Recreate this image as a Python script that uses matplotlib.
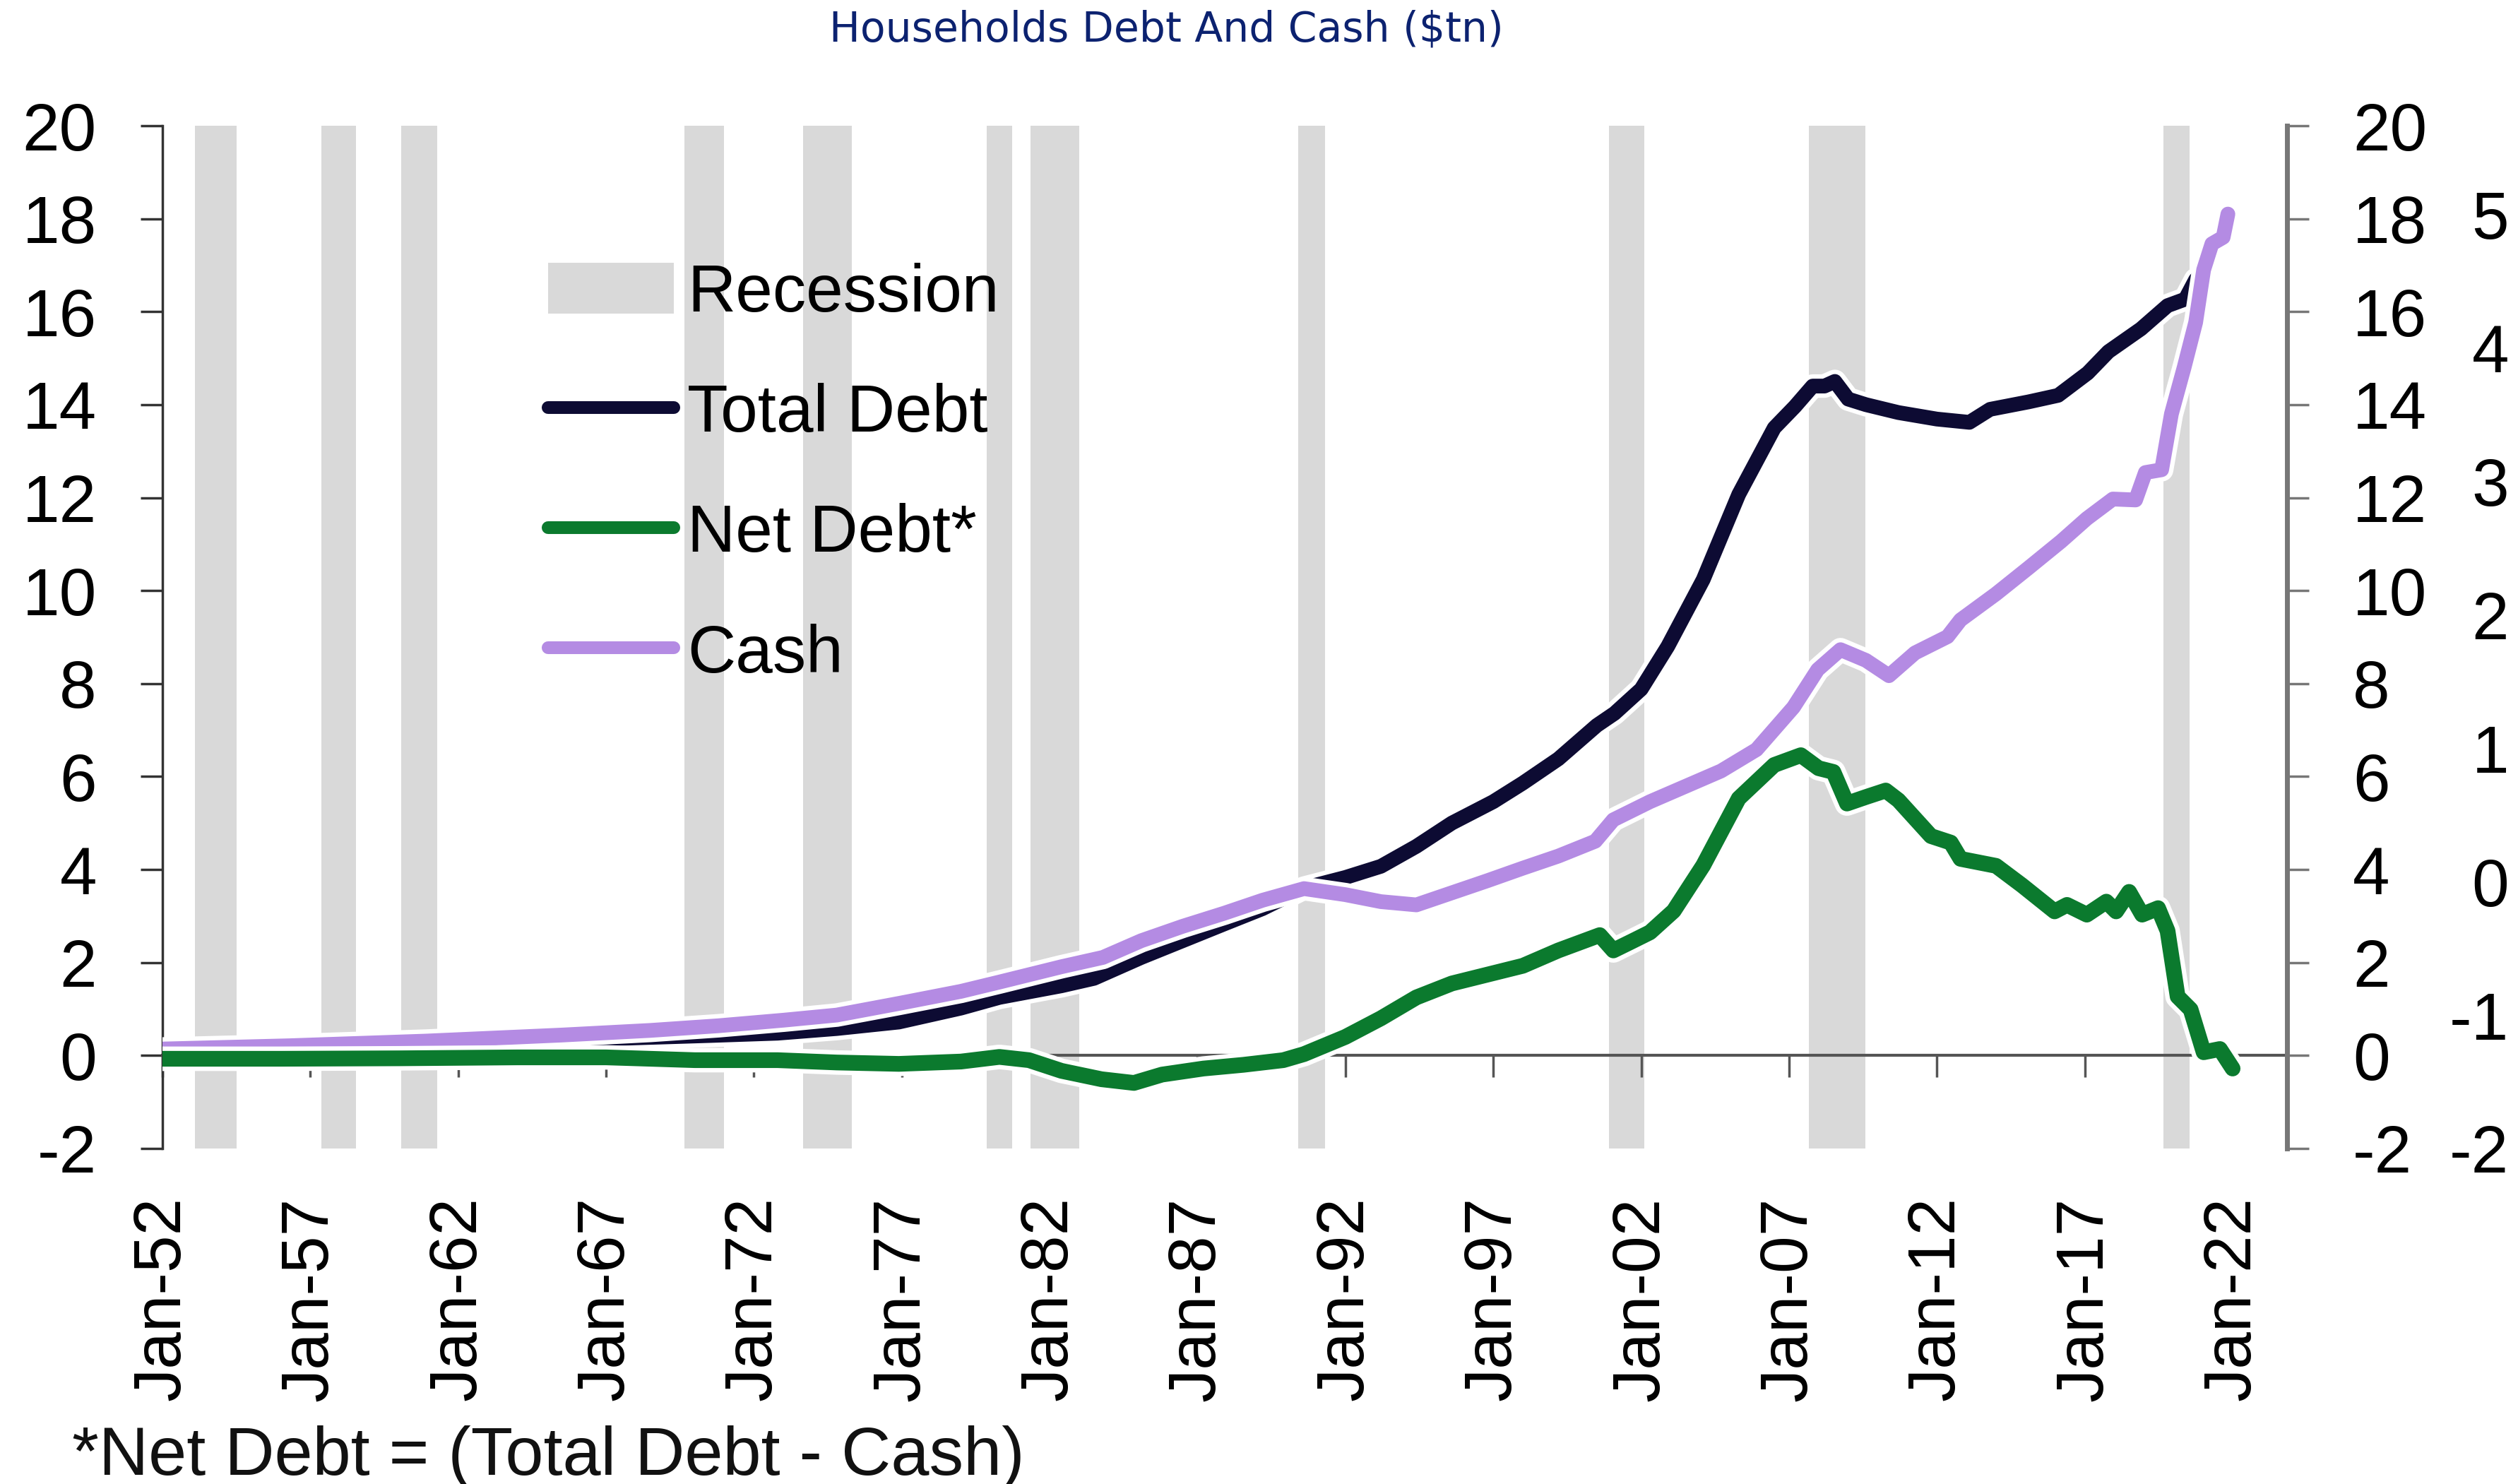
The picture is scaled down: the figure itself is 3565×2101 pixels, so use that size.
import matplotlib
matplotlib.use("Agg")
import matplotlib.pyplot as plt
import matplotlib.patheffects as pe
from matplotlib.patches import Patch
from matplotlib.lines import Line2D

plt.rcParams["font.family"] = ["Liberation Sans", "DejaVu Sans"]
plt.rcParams["axes.unicode_minus"] = False

# household balance sheet, $tn (decimal years)
debt_years = [1952.0, 1956.0, 1960.0, 1964.0, 1968.0, 1970.5, 1972.8, 1974.8, 1976.9, 1979.0,
              1980.3, 1982.4, 1983.5, 1985.1, 1986.5, 1987.9, 1989.2, 1990.6, 1992.0, 1993.2,
              1994.4, 1995.6, 1997.0, 1998.0, 1999.2, 2000.5, 2001.1, 2002.0, 2002.9, 2004.1,
              2005.3, 2006.5, 2007.2, 2007.8, 2008.2, 2008.55, 2009.0, 2009.6, 2010.7, 2012.0,
              2013.1, 2013.8, 2015.1, 2016.1, 2017.1, 2017.8, 2018.9, 2019.8, 2020.4, 2020.75]
total_debt = [0.07, 0.14, 0.22, 0.29, 0.38, 0.43, 0.48, 0.58, 0.72, 1.02,
              1.25, 1.50, 1.66, 2.11, 2.47, 2.83, 3.16, 3.60, 3.83, 4.07,
              4.50, 5.00, 5.46, 5.86, 6.38, 7.10, 7.36, 7.88, 8.80, 10.24,
              12.07, 13.50, 13.96, 14.40, 14.40, 14.50, 14.12, 14.00, 13.83, 13.69,
              13.62, 13.90, 14.06, 14.20, 14.68, 15.14, 15.63, 16.13, 16.27, 16.69]

cash_years = [1952.0, 1956.3, 1960.9, 1965.5, 1968.5, 1970.8, 1973.0, 1974.8, 1976.9, 1979.0,
              1980.3, 1982.4, 1983.8, 1985.1, 1986.5, 1987.9, 1989.2, 1990.6, 1992.0, 1993.2,
              1994.4, 1995.6, 1996.8, 1998.0, 1999.2, 2000.45, 2001.06, 2002.3, 2003.5, 2004.7,
              2005.9, 2007.15, 2007.97, 2008.74, 2009.6, 2010.38, 2011.26, 2012.36, 2012.8, 2014.0,
              2015.1, 2016.2, 2017.07, 2017.95, 2018.72, 2019.05, 2019.6, 2019.93, 2020.36, 2020.75,
              2021.02, 2021.3, 2021.68, 2021.84]
cash = [0.14, 0.21, 0.31, 0.44, 0.54, 0.64, 0.76, 0.87, 1.12, 1.38,
        1.58, 1.91, 2.11, 2.47, 2.78, 3.06, 3.34, 3.59, 3.46, 3.31,
        3.24, 3.50, 3.76, 4.03, 4.29, 4.61, 5.07, 5.46, 5.79, 6.12,
        6.58, 7.49, 8.30, 8.73, 8.50, 8.17, 8.66, 9.01, 9.37, 9.93,
        10.49, 11.06, 11.55, 11.97, 11.95, 12.54, 12.60, 13.80, 14.80, 15.77,
        16.90, 17.46, 17.60, 18.10]

net_years = [1952.0, 1956.0, 1960.0, 1964.0, 1967.0, 1970.0, 1972.8, 1974.8, 1976.9, 1979.0,
             1980.3, 1981.3, 1982.4, 1983.75, 1984.85, 1985.8, 1987.2, 1988.55, 1989.9, 1990.6,
             1992.0, 1993.2, 1994.4, 1995.6, 1996.8, 1998.0, 1999.2, 2000.6, 2001.06, 2001.7,
             2002.3, 2003.1, 2004.1, 2005.3, 2006.5, 2007.4, 2008.0, 2008.5, 2008.96, 2009.6,
             2010.27, 2010.7, 2011.8, 2012.47, 2012.8, 2014.0, 2014.88, 2015.98, 2016.4, 2017.07,
             2017.73, 2018.06, 2018.5, 2018.94, 2019.48, 2019.8, 2020.14, 2020.58, 2021.02, 2021.57,
             2022.0]
net_debt = [-0.07, -0.07, -0.06, -0.04, -0.04, -0.10, -0.10, -0.15, -0.18, -0.13,
            -0.03, -0.10, -0.33, -0.51, -0.59, -0.41, -0.28, -0.20, -0.10, 0.03,
            0.40, 0.80, 1.25, 1.55, 1.74, 1.93, 2.26, 2.59, 2.26, 2.46,
            2.65, 3.11, 4.09, 5.53, 6.25, 6.46, 6.18, 6.10, 5.42, 5.56,
            5.70, 5.49, 4.72, 4.58, 4.23, 4.08, 3.66, 3.10, 3.24, 3.03,
            3.31, 3.10, 3.52, 3.03, 3.17, 2.68, 1.27, 0.99, 0.07, 0.14,
            -0.28]

recession_start = [1953.1, 1957.38, 1960.08, 1969.65, 1973.67, 1979.86, 1981.36, 1990.41, 2000.92, 2007.67, 2019.65]
recession_end = [1954.51, 1958.55, 1961.29, 1970.99, 1975.32, 1980.74, 1983.0, 1991.3, 2002.1, 2009.57, 2020.54]

tick_years = list(range(1952, 2023, 5))
tick_labels = ["Jan-%02d" % (y % 100) for y in tick_years]
y_ticks = list(range(-2, 21, 2))
# outer scale, only its leading characters show at the right edge
outer_ticks = list(range(-20, 51, 10))
outer_labels = ["-2", "-1", "0", "1", "2", "3", "4", "5"]

NAVY = "#0d0b33"
GREEN = "#0b7a2e"
PURPLE = "#b48be3"
GREY = "#d9d9d9"
FS = 68

fig = plt.figure(figsize=(35.66, 21.01), dpi=100)
ax = fig.add_axes([230 / 3566, 1 - 1626 / 2101, 3008 / 3566, 1448 / 2101])

for s, e in zip(recession_start, recession_end):
    ax.axvspan(s, e, color=GREY, lw=0, zorder=0)

halo = [pe.Stroke(linewidth=24, foreground="white"), pe.Normal()]
ax.plot(debt_years, total_debt, color=NAVY, lw=15, solid_capstyle="round", zorder=3, path_effects=halo)
ax.plot(cash_years, cash, color=PURPLE, lw=15, solid_capstyle="round", zorder=4, path_effects=halo)
ax.plot(net_years, net_debt, color=GREEN, lw=16, solid_capstyle="round", zorder=5,
        path_effects=[pe.Stroke(linewidth=25, foreground="white"), pe.Normal()])

ax.set_xlim(1952.0, 2023.84)
ax.set_ylim(-2, 20)

# x axis sits on the zero line, labels pushed below the plot
ax.spines["bottom"].set_position(("data", 0))
ax.spines["bottom"].set_color("#555555")
ax.spines["bottom"].set_linewidth(3)
ax.spines["bottom"].set_zorder(2)
ax.spines["top"].set_visible(False)
ax.spines["right"].set_visible(False)
ax.spines["left"].set_color("#333333")
ax.spines["left"].set_linewidth(2.5)

ax.set_xticks(tick_years)
ax.set_xticklabels(tick_labels, rotation=90)
ax.tick_params(axis="x", direction="out", length=22, width=2.5, color="#555555",
               pad=122, labelsize=FS)
ax.set_yticks(y_ticks)
ax.set_yticklabels([str(v) for v in y_ticks])
ax.tick_params(axis="y", direction="out", length=22, width=2.5, color="#333333",
               pad=45, labelsize=FS)

ax2 = ax.twinx()
ax2.set_ylim(-2, 20)
ax2.set_yticks(y_ticks)
ax2.set_yticklabels([str(v) for v in y_ticks])
for side in ["left", "top", "bottom"]:
    ax2.spines[side].set_visible(False)
ax2.spines["right"].set_color("#777777")
ax2.spines["right"].set_linewidth(5)
ax2.tick_params(axis="y", direction="out", length=22, width=2.5, color="#777777",
                pad=45, labelsize=FS)

ax3 = ax.twinx()
ax3.set_ylim(-19.68, 56.65)
ax3.set_yticks(outer_ticks)
ax3.set_yticklabels(outer_labels)
for side in ["left", "top", "bottom", "right"]:
    ax3.spines[side].set_visible(False)
ax3.tick_params(axis="y", length=0, pad=226, labelsize=FS)
plt.setp(ax3.get_yticklabels(), ha="right")

handles = [
    Patch(facecolor=GREY, edgecolor="none", label="Recession"),
    Line2D([], [], color=NAVY, lw=13, solid_capstyle="round", label="Total Debt"),
    Line2D([], [], color=GREEN, lw=13, solid_capstyle="round", label="Net Debt*"),
    Line2D([], [], color=PURPLE, lw=13, solid_capstyle="round", label="Cash"),
]
ax.legend(handles=handles, loc="upper left", bbox_to_anchor=(0.1815, 0.866),
          frameon=False, fontsize=FS, handlelength=1.88, handleheight=0.8,
          handletextpad=0.21, labelspacing=0.86, borderpad=0, borderaxespad=0)

fig.text(0.463, 1 - 42 / 2101, "Households Debt And Cash ($tn)", ha="center", va="center",
         color="#0c2270", fontsize=42, family="DejaVu Sans")
fig.text(102 / 3566, 13 / 2101, "*Net Debt = (Total Debt - Cash)", ha="left", va="baseline",
         fontsize=70, color="#111111")

fig.savefig("out.png", dpi=100)
